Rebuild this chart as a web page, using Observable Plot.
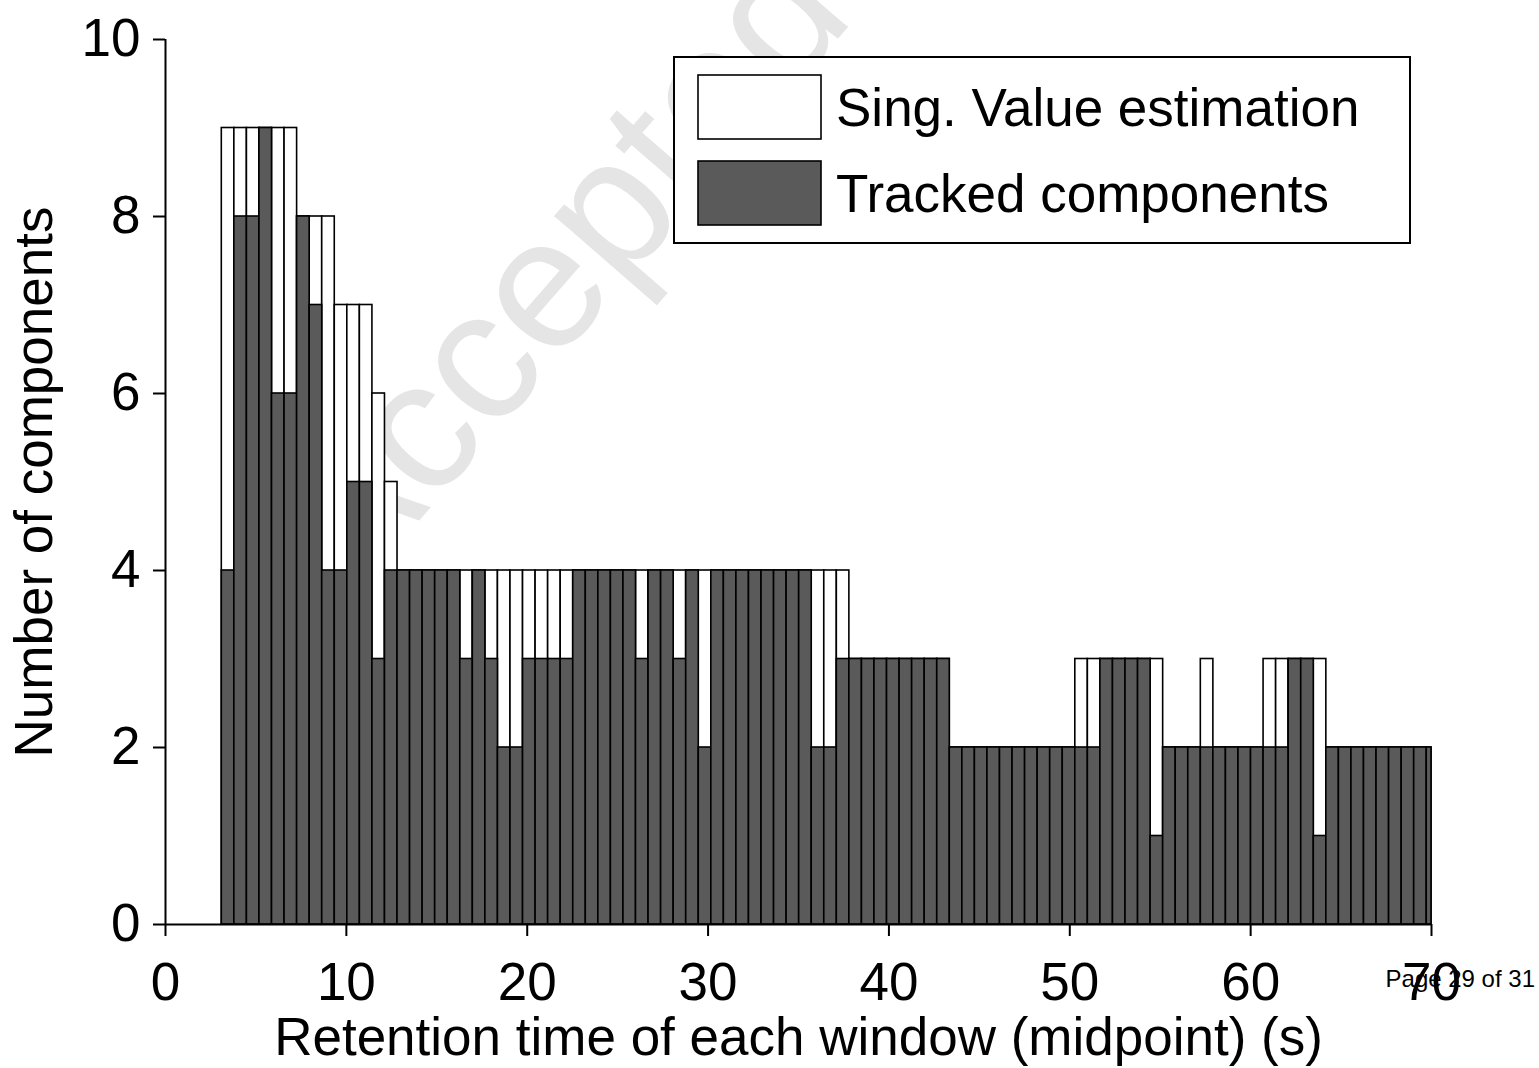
<!DOCTYPE html>
<html>
<head>
<meta charset="utf-8">
<script src="https://cdn.jsdelivr.net/npm/d3@7"></script>
<script src="https://cdn.jsdelivr.net/npm/@observablehq/plot@0.6"></script>
<style>
  html, body { margin: 0; padding: 0; background: #fff; }
  #chart { position: relative; width: 1539px; height: 1068px; }
  #chart svg [aria-label$="tick"], #chart svg [aria-label$="tick"] * { stroke-width: 2px; }
</style>
</head>
<body>
<div id="chart"></div>
<script>
// Components found per retention-time window (one bar per window)
const svdCounts = [
  9, 9, 9, 9, 9, 9, 8, 8, 8, 7, 7, 7, 6, 5, 4, 4, 4, 4, 4, 4,
  4, 4, 4, 4, 4, 4, 4, 4, 4, 4, 4, 4, 4, 4, 4, 4, 4, 4, 4, 4,
  4, 4, 4, 4, 4, 4, 4, 4, 4, 4, 3, 3, 3, 3, 3, 3, 3, 3, 2, 2,
  2, 2, 2, 2, 2, 2, 2, 2, 3, 3, 3, 3, 3, 3, 3, 2, 2, 2, 3, 2,
  2, 2, 2, 3, 3, 3, 3, 3, 2, 2, 2, 2, 2, 2, 2, 2, 2
];
const trackedCounts = [
  4, 8, 8, 9, 6, 6, 8, 7, 4, 4, 5, 5, 3, 4, 4, 4, 4, 4, 4, 3,
  4, 3, 2, 2, 3, 3, 3, 3, 4, 4, 4, 4, 4, 3, 4, 4, 3, 4, 2, 4,
  4, 4, 4, 4, 4, 4, 4, 2, 2, 3, 3, 3, 3, 3, 3, 3, 3, 3, 2, 2,
  2, 2, 2, 2, 2, 2, 2, 2, 2, 2, 3, 3, 3, 3, 1, 2, 2, 2, 2, 2,
  2, 2, 2, 2, 2, 3, 3, 1, 2, 2, 2, 2, 2, 2, 2, 2, 2
];

// Window geometry (seconds): midpoint of the first window and the spacing
const firstWindowMid = 3.46;
const windowStep = 0.694;
const timeMax = 70;

const xTicks = [0, 10, 20, 30, 40, 50, 60, 70];
const yTicks = [0, 2, 4, 6, 8, 10];
const xTitle = "Retention time of each window (midpoint) (s)";
const yTitle = "Number of components";
const seriesNames = ["Sing. Value estimation", "Tracked components"];
const seriesFills = ["#ffffff", "#5a5a5a"];
const pageNote = "Page 29 of 31";
const stampText = "Accepted";

const windows = svdCounts.map((v, i) => {
  const mid = firstWindowMid + i * windowStep;
  return {
    mid,
    x1: mid - windowStep / 2,
    x2: Math.min(mid + windowStep / 2, timeMax),
    svd: v,
    tracked: trackedCounts[i]
  };
});

const font = "'Liberation Sans', Arial, Helvetica, sans-serif";

const plot = Plot.plot({
  width: 1539,
  height: 1068,
  marginLeft: 165,
  marginRight: 108,
  marginTop: 39,
  marginBottom: 144,
  style: { fontFamily: font, fontSize: "53px", color: "#000", background: "transparent", overflow: "visible" },
  x: { domain: [0, timeMax], ticks: xTicks, tickSize: 12, tickPadding: 26, tickFormat: d => String(d), label: null },
  y: { domain: [0, 10], ticks: yTicks, tickSize: 12, tickPadding: 13, tickFormat: d => String(d), label: null },
  marks: [
    // singular-value estimate, drawn underneath
    Plot.rect(windows, { x1: "x1", x2: "x2", y1: 0, y2: "svd", fill: seriesFills[0], stroke: "#000", strokeWidth: 1.6 }),
    // components actually tracked, drawn on top
    Plot.rect(windows, { x1: "x1", x2: "x2", y1: 0, y2: "tracked", fill: seriesFills[1], stroke: "#000", strokeWidth: 1.6 }),
    Plot.ruleY([0], { stroke: "#000", strokeWidth: 2 }),
    Plot.ruleX([0], { stroke: "#000", strokeWidth: 2 }),
    Plot.text([xTitle], { frameAnchor: "bottom", dy: 114, lineAnchor: "middle", textAnchor: "middle", fontSize: 53, fill: "#000" }),
    Plot.text([yTitle], { frameAnchor: "left", dx: -130, rotate: -90, lineAnchor: "middle", textAnchor: "middle", fontSize: 53, fill: "#000" })
  ]
});

document.getElementById("chart").appendChild(plot);

const svg = d3.select(plot);

// faint diagonal stamp behind the chart
svg.insert("text", ":first-child")
  .attr("transform", "translate(350,600) rotate(-49)")
  .attr("text-anchor", "start")
  .attr("font-family", font)
  .attr("font-size", 185)
  .attr("fill", "#e5e5e5")
  .text(stampText);

// legend box
const legend = svg.append("g").attr("font-family", font).attr("text-anchor", "start");
legend.append("rect")
  .attr("x", 674).attr("y", 57).attr("width", 736).attr("height", 186)
  .attr("fill", "#fff").attr("stroke", "#000").attr("stroke-width", 2);
seriesNames.forEach((name, i) => {
  const top = 75 + i * 86;
  legend.append("rect")
    .attr("x", 698).attr("y", top).attr("width", 123).attr("height", 64)
    .attr("fill", seriesFills[i]).attr("stroke", "#000").attr("stroke-width", 1.6);
  legend.append("text")
    .attr("x", 836).attr("y", top + 51)
    .attr("text-anchor", "start")
    .attr("font-size", 53).attr("fill", "#000")
    .text(name);
});

// page footer
svg.append("text")
  .attr("x", 1535).attr("y", 987)
  .attr("text-anchor", "end")
  .attr("font-family", font)
  .attr("font-size", 24)
  .attr("fill", "#000")
  .text(pageNote);
</script>
</body>
</html>
